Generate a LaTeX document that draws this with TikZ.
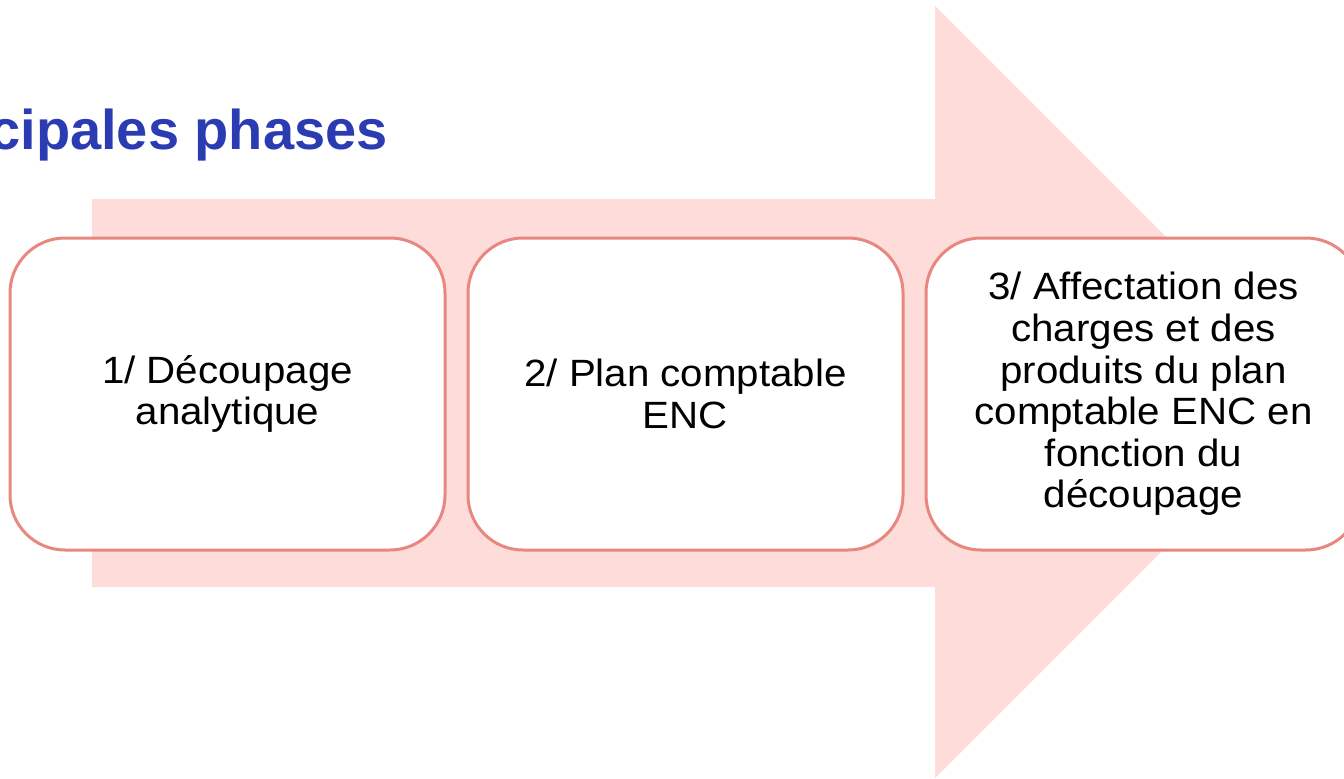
\documentclass[tikz,border=0pt]{standalone}
\usepackage{fontspec}
\setmainfont{Liberation Sans}
\newfontfamily\boxfont[FakeStretch=1.06]{Liberation Sans}
\definecolor{arrowfill}{HTML}{FDDCDA}
\definecolor{boxline}{HTML}{E8877F}
\definecolor{titleblue}{HTML}{2B3BB1}
\begin{document}
\begin{tikzpicture}[x=1pt,y=-1pt,
  phasebox/.style={draw=boxline, line width=3pt, fill=white, rounded corners=55pt,
    minimum width=435pt, minimum height=312pt, inner sep=0pt, align=center,
    font=\boxfont\fontsize{38}{41.6}\selectfont, text=black}]
\useasboundingbox (0,0) rectangle (1344,779);
% big background arrow
\fill[arrowfill] (92,199) -- (935,199) -- (935,6) -- (1321,392) -- (935,778) -- (935,587) -- (92,587) -- cycle;
% title
\node[anchor=base east, inner sep=0pt, text=titleblue, font=\fontsize{56}{60}\selectfont\bfseries] (title) at (388,149) {cipales phases};
% phase boxes
\node[phasebox] (p1) at (227.5,394) {1/ Découpage\\analytique};
\node[phasebox] (p2) at (685.5,394) {2/ Plan comptable\\ENC};
\node[phasebox] (p3) at (1143.5,394) {3/ Affectation des\\charges et des\\produits du plan\\comptable ENC en\\fonction du\\découpage};
\end{tikzpicture}
\end{document}
